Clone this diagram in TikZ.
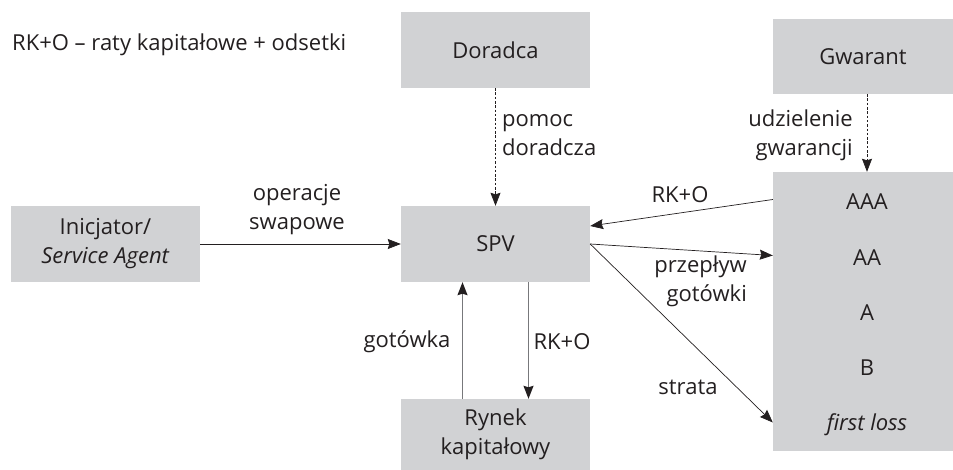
\documentclass[tikz,border=0pt]{standalone}
\usepackage{fontspec}
\setmainfont{Open Sans}
\usetikzlibrary{arrows.meta,calc}
\definecolor{boxgray}{HTML}{D1D2D4}
\definecolor{ink}{HTML}{231F20}
\definecolor{stem}{HTML}{77787B}
\begin{document}
\begin{tikzpicture}[x=1pt,y=-1pt,
  every node/.style={text=ink,font=\fontsize{22}{29}\selectfont},
  box/.style={fill=boxgray,draw=none,inner sep=0pt,align=center},
  lbl/.style={inner sep=0pt,align=center},
  flow/.style={draw=ink,line width=0.7pt,-{Stealth[length=13pt,width=10pt,inset=1.5pt,color=ink]}},
  supply/.style={flow,draw=stem,line width=1.3pt},
  aid/.style={flow,dash pattern=on 2.5pt off 1.8pt}]
\useasboundingbox (0,0) rectangle (953,470);

% parties
\node[box,minimum width=189pt,minimum height=76pt] (doradca) at (495.5,50) {Doradca};
\node[box,minimum width=180pt,minimum height=75pt] (gwarant) at (863,56.5) {Gwarant};
\node[box,minimum width=189pt,minimum height=76pt] (inic) at (105.5,244) {Inicjator/\\\textit{Service Agent}};
\node[box,minimum width=189pt,minimum height=76pt] (spv) at (495.5,244) {SPV};
\node[box,minimum width=189pt,minimum height=71pt] (rynek) at (495.5,434.5) {Rynek\\kapitałowy};
\node[box,minimum width=180pt,minimum height=279pt] (tr) at (863,311.5) {};

% tranches
\node[lbl] (aaa) at (867,202) {AAA};
\node[lbl] (aa) at (867,258) {AA};
\node[lbl] (a) at (867,313) {A};
\node[lbl] (b) at (867,368) {B};
\node[lbl] (fl) at (867,425) {\textit{first loss}};

% legend
\node[lbl,anchor=west] (leg) at (12,45) {RK+O – raty kapitałowe + odsetki};

% flows
\draw[aid] (doradca.south) -- (spv.north);
\draw[aid] ($(gwarant.south)+(4,0)$) -- ($(tr.north)+(4,0)$);
\draw[flow] (inic.east) -- (spv.west);
\draw[supply] ($(rynek.north)+(-33,0)$) -- ($(spv.south)+(-33,0)$);
\draw[supply] ($(spv.south)+(33,0)$) -- ($(rynek.north)+(33,0)$);
\draw[flow] ($(tr.west)+(0,-112)$) -- ($(spv.east)+(0,-18)$);
\draw[flow] (spv.east) -- ($(tr.west)+(0,-56)$);
\draw[flow] (spv.east) -- ($(tr.west)+(0,111)$);

% flow labels
\node[lbl,align=left,anchor=west] at (502,135) {pomoc\\doradcza};
\node[lbl,align=right,anchor=east] at (853,135) {udzielenie\\gwarancji};
\node[lbl] at (297,210) {operacje\\swapowe};
\node[lbl] at (407,342) {gotówka};
\node[lbl] at (562,342) {RK+O};
\node[lbl] at (680,195) {RK+O};
\node[lbl,align=right,anchor=east] at (747,281) {przepływ\\gotówki};
\node[lbl] at (688,387) {strata};
\end{tikzpicture}
\end{document}
